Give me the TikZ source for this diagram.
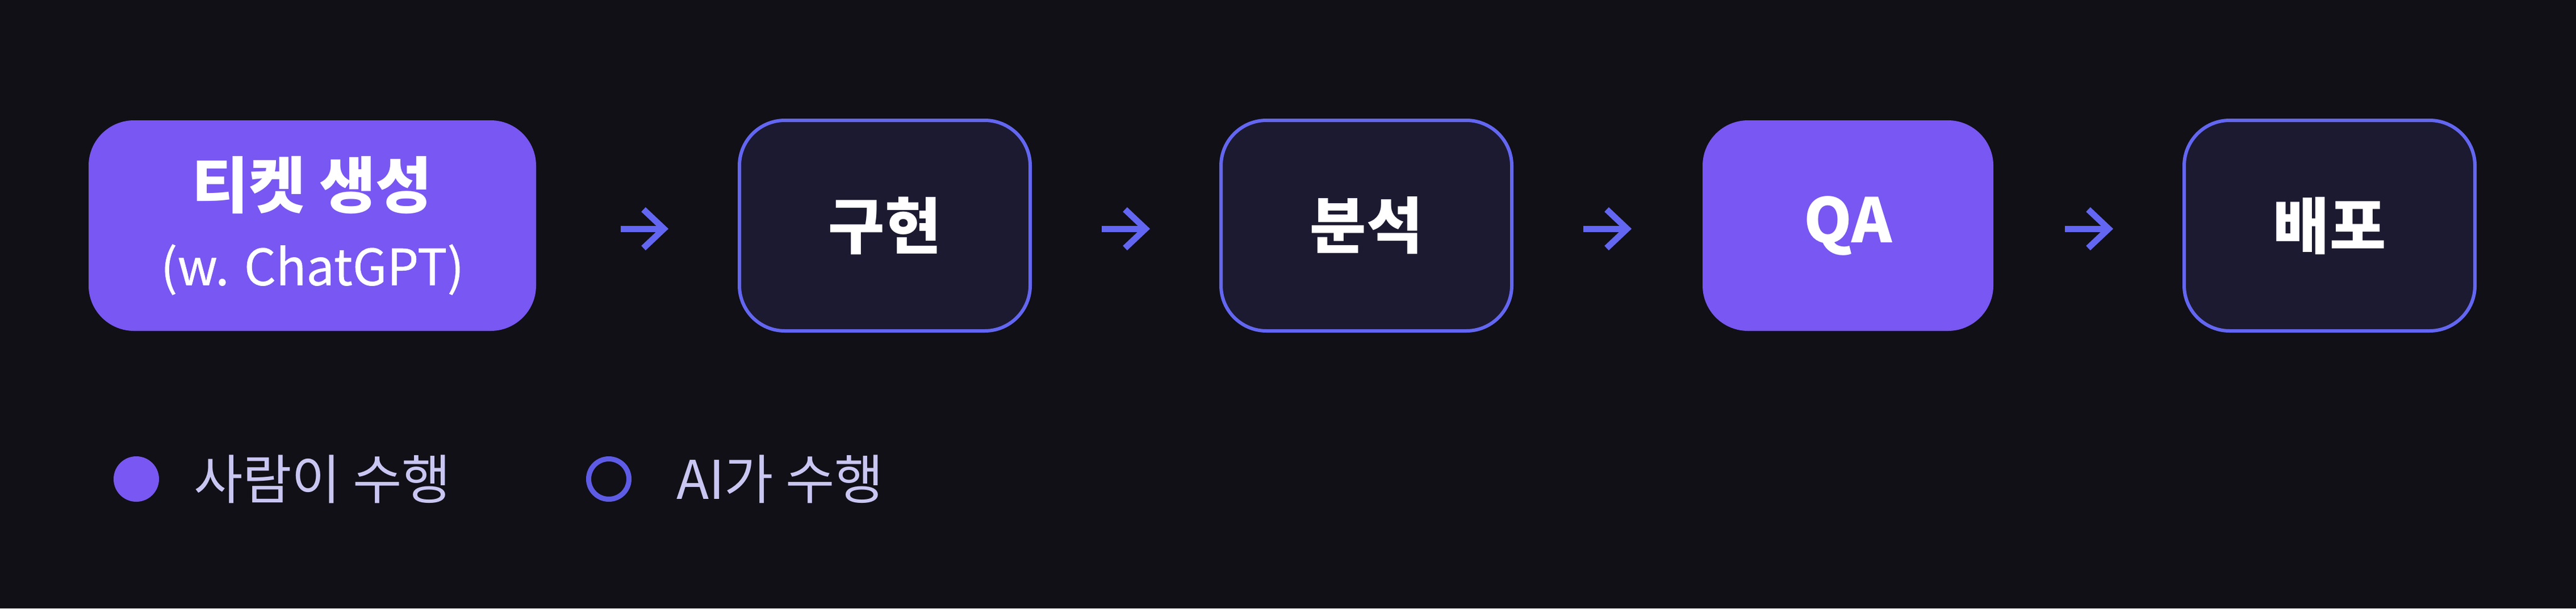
\documentclass[tikz,border=0pt]{standalone}
\usepackage{fontspec}
\setmainfont{Noto Sans CJK KR}
\usepackage{tikz}
\usetikzlibrary{arrows.meta, positioning}

\definecolor{bgdark}{HTML}{111017}
\definecolor{violetfill}{HTML}{7857F2}
\definecolor{indigoline}{HTML}{6366F1}
\definecolor{cardfill}{HTML}{1C1A30}
\definecolor{legendtext}{HTML}{C9C6F2}
\definecolor{ringline}{HTML}{5E5CE6}

\begin{document}
\begin{tikzpicture}
                            [stage/.style={rounded corners=20pt, minimum width=128pt, minimum height=92.75pt,
                                           inner sep=0pt, outer sep=0pt, text=white, align=center,
                                           font=\fontsize{27}{30}\selectfont\bfseries},
                             human/.style={stage, fill=violetfill},
                             machine/.style={stage, fill=cardfill, draw=indigoline, line width=1.5pt},
                             flow/.style={draw=indigoline, line width=2.75pt, shorten <=31.5pt, shorten >=31.25pt,
                                          -{Straight Barb[length=9pt, width=17pt]}},
                             legdot/.style={circle, minimum size=20pt, inner sep=0pt, outer sep=0pt},
                             legtext/.style={inner sep=0pt, outer sep=0pt, text=legendtext,
                                             font=\fontsize{23.5}{26}\selectfont}]

                            \fill[bgdark] (0,0) rectangle (1134pt,-268pt); % Background

                            \node[human, minimum width=197pt] (ticket) at (137.5pt,-99.375pt)
                                {티켓 생성\\[4pt]{\fontsize{22}{26}\selectfont\mdseries\addfontfeature{FakeBold=0.6}(w. ChatGPT)}};
                            \node[machine, right=89.5pt of ticket] (impl) {구현};
                            \node[machine, right=84pt of impl] (analysis) {분석};
                            \node[human, right=84pt of analysis] (qa) {QA};
                            \node[machine, right=84pt of qa] (deploy) {배포};

                            \draw[flow, shorten <=37.25pt] ([yshift=-1.4pt]ticket.east) -- ([yshift=-1.4pt]impl.west);
                            \draw[flow] ([yshift=-1.4pt]impl.east) -- ([yshift=-1.4pt]analysis.west);
                            \draw[flow] ([yshift=-1.4pt]analysis.east) -- ([yshift=-1.4pt]qa.west);
                            \draw[flow] ([yshift=-1.4pt]qa.east) -- ([yshift=-1.4pt]deploy.west);

                            % Legend
                            \node[legdot, fill=violetfill] (humandot) at (60pt,-211pt) {};
                            \node[legtext, right=15.25pt of humandot] (humanlbl) {사람이 수행};
                            \node[legdot, minimum size=17.75pt, draw=ringline, line width=2.25pt] (aidot) at (268pt,-211pt) {};
                            \node[legtext, right=20.9pt of aidot] (ailbl) {AI가 수행};
                        \end{tikzpicture}
\end{document}
